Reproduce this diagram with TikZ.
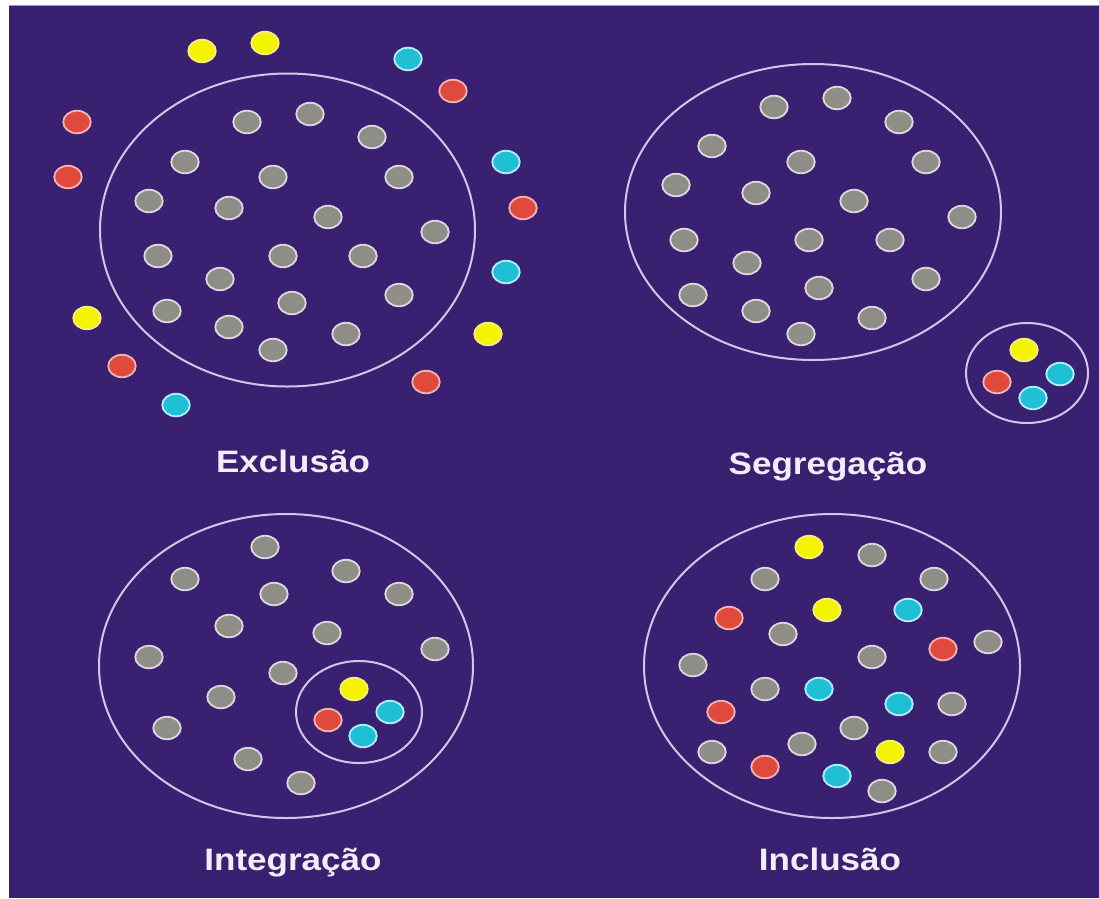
\documentclass[tikz,border=0pt]{standalone}
\usepackage{fontspec}
\setmainfont{Liberation Sans}
\usetikzlibrary{shapes.geometric}
\definecolor{bg}{HTML}{3A2070}
\definecolor{ringc}{HTML}{D2C6E8}
\definecolor{grayf}{HTML}{8E8E86}
\definecolor{grayb}{HTML}{DCD8E0}
\definecolor{redf}{HTML}{E04A3C}
\definecolor{redb}{HTML}{F2B4B4}
\definecolor{yelf}{HTML}{F4F400}
\definecolor{yelb}{HTML}{F6EE80}
\definecolor{cyaf}{HTML}{1FC0D6}
\definecolor{cyab}{HTML}{B4F0F8}
\definecolor{txt}{HTML}{F2EEF8}
\tikzset{
  dotbase/.style={ellipse, minimum width=27.5pt, minimum height=22.5pt, inner sep=0pt, line width=1.8pt},
  gdot/.style={dotbase, fill=grayf, draw=grayb},
  rdot/.style={dotbase, fill=redf, draw=redb},
  ydot/.style={dotbase, fill=yelf, draw=yelb},
  cdot/.style={dotbase, fill=cyaf, draw=cyab},
  ring/.style={ellipse, draw=ringc, line width=2pt, inner sep=0pt},
  lbl/.style={text=txt, anchor=base, inner sep=0pt, font=\bfseries\fontsize{31}{31}\selectfont}
}
\begin{document}
\begin{tikzpicture}[x=1pt,y=-1pt]
\useasboundingbox (0,0) rectangle (1099,898);
\fill[white] (0,0) rectangle (1099,898);
\fill[bg] (9,5) rectangle (1099,898);
\draw[ringc!70!bg, line width=1pt] (9,5.5) -- (1099,5.5);

% ---------------- Exclusao ----------------
\node[ring, minimum width=375pt, minimum height=313pt] (exring) at (287.5,230) {};
\foreach \x/\y [count=\i] in {247/122,310/114,372/137,185/162,273/177,399/177,149/201,229/208,328/217,435/232,158/256,283/256,363/256,220/279,399/295,167/311,292/303,229/327,346/334,273/350}
  \node[gdot] (exg\i) at (\x,\y) {};
\foreach \x/\y [count=\i] in {202/51,265/43,87/318,488/334}
  \node[ydot] (exy\i) at (\x,\y) {};
\foreach \x/\y [count=\i] in {453/91,77/122,68/177,523/208,122/366,426/382}
  \node[rdot] (exr\i) at (\x,\y) {};
\foreach \x/\y [count=\i] in {408/59,506/162,506/272,176/405}
  \node[cdot] (exc\i) at (\x,\y) {};
\node[lbl] (exlbl) at (293,472) {\scalebox{1.13}[1]{Exclusão}};

% ---------------- Segregacao ----------------
\node[ring, minimum width=376pt, minimum height=296pt] (sgring) at (813,212) {};
\foreach \x/\y [count=\i] in {774/107,837/98,899/122,712/146,801/162,926/162,676/185,756/193,854/201,962/217,684/240,809/240,890/240,747/263,926/279,693/295,819/288,756/311,872/318,801/334}
  \node[gdot] (sgg\i) at (\x,\y) {};
\node[ring, minimum width=122pt, minimum height=100pt] (sgsmall) at (1027,373) {};
\node[ydot] (sgy) at (1024,350) {};
\node[rdot] (sgr) at (997,382) {};
\node[cdot] (sgc1) at (1060,374) {};
\node[cdot] (sgc2) at (1033,398) {};
\node[lbl] (sglbl) at (828,474) {\scalebox{1.13}[1]{Segregação}};

% ---------------- Integracao ----------------
\node[ring, minimum width=374pt, minimum height=304pt] (inring) at (286,666) {};
\foreach \x/\y [count=\i] in {265/547,185/579,346/571,274/594,399/594,229/626,327/633,149/657,435/649,283/673,221/697,167/728,248/759,301/783}
  \node[gdot] (ing\i) at (\x,\y) {};
\node[ring, minimum width=126pt, minimum height=102pt] (insmall) at (359,712) {};
\node[ydot] (iny) at (354,689) {};
\node[rdot] (inr) at (328,720) {};
\node[cdot] (inc1) at (390,712) {};
\node[cdot] (inc2) at (363,736) {};
\node[lbl] (inlbl) at (293,870) {\scalebox{1.13}[1]{Integração}};

% ---------------- Inclusao ----------------
\node[ring, minimum width=376pt, minimum height=304pt] (icring) at (832,666) {};
\foreach \x/\y [count=\i] in {872/555,765/579,934/579,783/634,988/642,693/665,872/657,765/689,952/704,854/728,712/752,802/744,943/752,882/791}
  \node[gdot] (icg\i) at (\x,\y) {};
\foreach \x/\y [count=\i] in {809/547,827/610,890/752}
  \node[ydot] (icy\i) at (\x,\y) {};
\foreach \x/\y [count=\i] in {729/618,943/649,721/712,765/767}
  \node[rdot] (icr\i) at (\x,\y) {};
\foreach \x/\y [count=\i] in {908/610,819/689,899/704,837/776}
  \node[cdot] (icc\i) at (\x,\y) {};
\node[lbl] (iclbl) at (830,870) {\scalebox{1.13}[1]{Inclusão}};
\end{tikzpicture}
\end{document}
